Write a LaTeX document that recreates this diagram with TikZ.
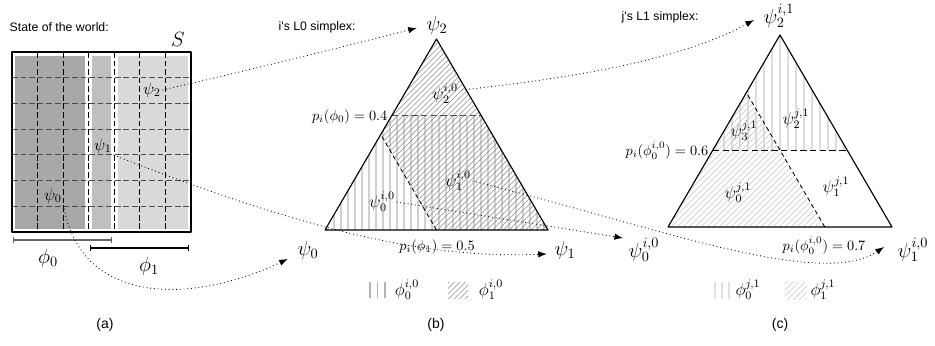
\RequirePackage{fix-cm}
\documentclass[tikz,border=0pt]{standalone}
\usepackage{fontspec}
\newfontfamily\capfont{Liberation Sans}
\usetikzlibrary{arrows.meta,calc}
\begin{document}
\begin{tikzpicture}[x=0.7pt,y=-0.7pt,
  every node/.style={inner sep=1pt},
  big/.style={font=\fontsize{14.4}{16}\selectfont},
  mid/.style={font=\fontsize{12}{14}\selectfont},
  plab/.style={font=\fontsize{10}{12}\selectfont},
  amid/.style={font=\fontsize{11.5}{13}\selectfont},
  capt/.style={font=\capfont\fontsize{8.6}{10}\selectfont},
  sublabel/.style={font=\capfont\fontsize{9.8}{11}\selectfont},
  griddash/.style={dash pattern=on 4pt off 2pt, line width=0.85pt},
  outline/.style={line width=0.8pt, line join=round},
  dotarrow/.style={dotted, line width=0.6pt, -{Latex[length=6pt,width=4.5pt]}},
  vhatchB/.style={black!18, line width=1pt},
  dhatchB/.style={black!45, line width=0.45pt},
  vhatchC/.style={black!13, line width=1pt},
  dhatchC/.style={black!22, line width=0.45pt},
  splitdash/.style={dash pattern=on 3pt off 2.2pt, line width=0.6pt}
]
\useasboundingbox (0,0) rectangle (935,345);

% ---------------- panel (a) ----------------
\node[capt, anchor=west] (capA) at (8,27) {State of the world:};
\fill[black!34] (15,55.5) rectangle (85.2,228.5);
\fill[black!25] (92.2,55.5) rectangle (110.8,228.5);
\fill[black!15] (117.8,55.5) rectangle (187.5,228.5);
\foreach \i in {1,...,6}{
  \draw[griddash, black!70] (12,{52+\i*180/7}) -- (191,{52+\i*180/7});
}
\foreach \i in {1,...,6}{
  \draw[griddash] ({12+\i*179/7},52) -- ({12+\i*179/7},232);
}
\draw[outline] (12,52) rectangle (191,232);
\node[big] (S) at (178,39) {$S$};
\node[amid] (psiA2) at (152,90) {$\psi_2$};
\node[amid] (psiA1) at (103,146) {$\psi_1$};
\node[amid] (psiA0) at (53,196) {$\psi_0$};
\draw[black!60, line width=0.8pt, {Bar[width=4pt]}-{Bar[width=4pt]}] (13,240) -- (112,240);
\draw[black, line width=0.8pt, {Bar[width=4pt]}-{Bar[width=4pt]}] (90,248) -- (189,248);
\node[big] (phiA0) at (48,258) {$\phi_0$};
\node[big] (phiA1) at (149,266) {$\phi_1$};
\node[sublabel] (subA) at (105,325) {(a)};

% ---------------- panel (b) ----------------
\coordinate (b0) at (325,230);
\coordinate (b1) at (548,230);
\coordinate (b2) at (436.5,39);
\coordinate (bhl) at (391.9,115.4);
\coordinate (bhr) at (481.1,115.4);
\coordinate (bm) at (436.5,230);
\coordinate (bl) at (380.75,134.5);
\begin{scope}
  \clip (b0) -- (b1) -- (bhr) -- (bhl) -- cycle;
  \foreach \x in {327,334,...,548} \draw[vhatchB] (\x,110) -- (\x,232);
\end{scope}
\begin{scope}
  \clip (bm) -- (b1) -- (b2) -- (bl) -- cycle;
  \foreach \x in {180,185.5,...,560} \draw[dhatchB] (\x,240) -- ({\x+220},20);
\end{scope}
\draw[dash pattern=on 4.5pt off 2.3pt, line width=0.9pt, black!70] (bhl) -- (bhr);
\draw[splitdash] (bm) -- (bl);
\draw[outline] (b0) -- (b1) -- (b2) -- cycle;
\node[capt, anchor=west] (capB) at (277,27) {i's L0 simplex:};
\node[big] (psiB2) at (437,25) {$\psi_2$};
\node[big] (psiB0) at (308,250) {$\psi_0$};
\node[big] (psiB1) at (565,250) {$\psi_1$};
\node[plab, anchor=east] (pB0) at (389,117) {$p_i(\phi_0) = 0.4$};
\node[plab] (pB1) at (437,247) {$p_i(\phi_1) = 0.5$};
\node[mid] (psiBi2) at (445,94) {$\psi_2^{i,0}$};
\node[mid] (psiBi1) at (458,181) {$\psi_1^{i,0}$};
\node[mid] (psiBi0) at (382,202) {$\psi_0^{i,0}$};
\foreach \x in {370,377.5,385} \draw[black!30, line width=0.8pt] (\x,282) -- (\x,298);
\begin{scope}
  \clip (448,282) rectangle (468,298);
  \foreach \x in {420,425.5,...,470} \draw[dhatchB] (\x,300) -- ({\x+25},275);
\end{scope}
\node[mid] (legB0) at (407,290) {$\phi_0^{i,0}$};
\node[mid] (legB1) at (491,290) {$\phi_1^{i,0}$};
\node[sublabel] (subB) at (436,325) {(b)};

% ---------------- panel (c) ----------------
\coordinate (c0) at (668,227);
\coordinate (c1) at (892,227);
\coordinate (c2) at (780,35);
\coordinate (chl) at (712.8,150.2);
\coordinate (chr) at (847.2,150.2);
\coordinate (cd) at (824.8,227);
\coordinate (ce) at (746.4,92.6);
\begin{scope}
  \clip (chl) -- (chr) -- (c2) -- cycle;
  \foreach \x in {716,724,...,850} \draw[vhatchC] (\x,30) -- (\x,152);
\end{scope}
\begin{scope}
  \clip (c0) -- (cd) -- (ce) -- cycle;
  \foreach \x in {520,526,...,830} \draw[dhatchC] (\x,240) -- ({\x+220},20);
\end{scope}
\draw[dash pattern=on 4.5pt off 2.3pt, line width=0.8pt] (chl) -- (chr);
\draw[splitdash] (cd) -- (ce);
\draw[outline] (c0) -- (c1) -- (c2) -- cycle;
\node[capt, anchor=west] (capC) at (620,17.5) {j's L1 simplex:};
\node[big] (psiC2) at (779,16) {$\psi_2^{i,1}$};
\node[big] (psiC0) at (644,250) {$\psi_0^{i,0}$};
\node[big] (psiC1) at (913,250) {$\psi_1^{i,0}$};
\node[mid] (psiCj2) at (796,119) {$\psi_2^{j,1}$};
\node[mid] (psiCj3) at (744,131) {$\psi_3^{j,1}$};
\node[mid] (psiCj0) at (738,193) {$\psi_0^{j,1}$};
\node[mid] (psiCj1) at (836,187) {$\psi_1^{j,1}$};
\node[plab, anchor=east] (pC0) at (710,151) {$p_i(\phi_0^{i,0}) = 0.6$};
\node[plab] (pC1) at (824,246) {$p_i(\phi_0^{i,0}) = 0.7$};
\foreach \x in {715,722,729} \draw[black!12, line width=0.8pt] (\x,282) -- (\x,299);
\begin{scope}
  \clip (785,282) rectangle (807,299);
  \foreach \x in {755,761,...,810} \draw[dhatchC] (\x,302) -- ({\x+25},277);
\end{scope}
\node[mid] (legC0) at (748,290) {$\phi_0^{j,1}$};
\node[mid] (legC1) at (823,290) {$\phi_1^{j,1}$};
\node[sublabel] (subC) at (780,325) {(c)};

% ---------------- connectors ----------------
\draw[dotarrow] (psiA2.east) .. controls (250,70) and (350,45) .. ($(psiB2.west)+(-8,3)$);
\draw[dotarrow] (psiA1.south east) .. controls (330,240) and (440,258) .. ($(psiB1.west)+(-6,4)$);
\draw[dotarrow] (psiA0.south east) .. controls (80,305) and (190,305) .. ($(psiB0.west)+(-8,9)$);
\draw[dotarrow] ($(psiBi2.east)+(2,-4)$) .. controls (600,75) and (690,55) .. ($(psiC2.west)+(-8,4)$);
\draw[dotarrow] (psiBi1.east) .. controls (650,225) and (820,290) .. ($(psiC1.west)+(-12,-3)$);
\draw[dotarrow] (psiBi0.east) -- ($(psiC0.west)+(-4,-12)$);
\end{tikzpicture}
\end{document}
